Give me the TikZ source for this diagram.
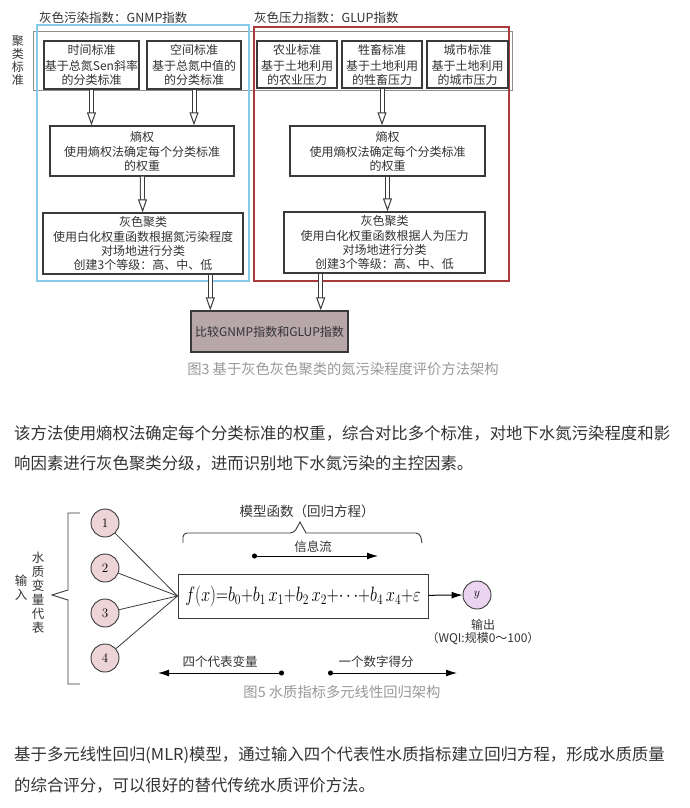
\documentclass[tikz,border=0pt]{standalone}
\usepackage{fontspec}
\usepackage{graphicx}
\usepackage{tikz}
\usetikzlibrary{arrows.meta, positioning, calc}
\newfontfamily\cjk{Noto Sans CJK SC}
\definecolor{boxline}{HTML}{3A3A3A}
\definecolor{txt}{HTML}{333333}
\definecolor{skyframe}{HTML}{86CBEA}
\definecolor{redframe}{HTML}{A93A3C}
\definecolor{grayframe}{HTML}{8E8E8E}
\definecolor{cmpfill}{HTML}{B7A6AA}
\definecolor{infill}{HTML}{EDD4D7}
\definecolor{outfill}{HTML}{EBD4EF}
\definecolor{capgray}{HTML}{999999}

\begin{document}
\begin{tikzpicture}[x=1pt, y=-1pt,
        block/.style={rectangle, draw=boxline, line width=1.4pt, align=center, text=txt, inner sep=0pt, font=\cjk\fontsize{12}{14}\selectfont},
        hollow/.style={draw=boxline, line width=1pt, double=white, double distance=3pt, -{Triangle[open, length=13pt, width=9pt]}},
        lbl/.style={text=txt, align=center, inner sep=0pt, font=\cjk\fontsize{12.5}{14}\selectfont},
        ball/.style={circle, draw=boxline, line width=0.9pt, fill=infill, minimum size=28pt, inner sep=0pt, font=\fontsize{13}{13}\selectfont},
        line/.style={draw=black, line width=1pt, -{Latex[length=11pt, width=7pt]}},
        flow/.style={draw=black, line width=1pt, {Circle[length=5pt]}-{Latex[length=11pt, width=7pt]}},
        para/.style={anchor=west, text=txt, inner sep=0pt, font=\cjk\fontsize{16.4}{18}\selectfont},
        caption/.style={text=capgray, inner sep=0pt, font=\cjk\fontsize{14.3}{16}\selectfont}]

    \fill [white] (0,0) rectangle (690,808);
    \useasboundingbox (0,0) rectangle (690,808);

    % figure 3
    \draw [grayframe, line width=1pt] (33,32) rectangle (512,90);
    \draw [skyframe, line width=1.4pt] (37,25) rectangle (249,281);
    \draw [redframe, line width=1.4pt] (254,27) rectangle (509,281);

    \node [lbl, anchor=west] (gnmp) at (39,18) {灰色污染指数：GNMP指数};
    \node [lbl, anchor=west] (glup) at (254,18) {灰色压力指数：GLUP指数};
    \node [lbl, font=\cjk\fontsize{12}{13}\selectfont] (cluster) at (18,61) {聚\\类\\标\\准};

    \node [block, minimum width=95pt, minimum height=48pt] (time) at (91.5,65) {时间标准\\[2pt]基于总氮Sen斜率\\的分类标准};
    \node [block, minimum width=94pt, minimum height=48pt] (space) at (194,65) {空间标准\\[2pt]基于总氮中值的\\的分类标准};
    \node [block, minimum width=80pt, minimum height=47pt] (farm) at (297,64.5) {农业标准\\[2pt]基于土地利用\\的农业压力};
    \node [block, minimum width=80pt, minimum height=47pt] (stock) at (382,64.5) {牲畜标准\\[2pt]基于土地利用\\的牲畜压力};
    \node [block, minimum width=81pt, minimum height=47pt] (city) at (467.5,64.5) {城市标准\\[2pt]基于土地利用\\的城市压力};

    \node [block, minimum width=184pt, minimum height=50pt] (entl) at (142,151) {熵权\\[1pt]使用熵权法确定每个分类标准\\的权重};
    \node [block, minimum width=195pt, minimum height=50pt] (entr) at (387.5,151) {熵权\\[1pt]使用熵权法确定每个分类标准\\的权重};
    \node [block, minimum width=200pt, minimum height=61pt] (greyl) at (143,243.5) {灰色聚类\\[1pt]使用白化权重函数根据氮污染程度\\对场地进行分类\\创建3个等级：高、中、低};
    \node [block, minimum width=201pt, minimum height=61pt] (greyr) at (384.5,242.5) {灰色聚类\\[1pt]使用白化权重函数根据人为压力\\对场地进行分类\\创建3个等级：高、中、低};
    \node [block, fill=cmpfill, minimum width=157pt, minimum height=41pt] (cmp) at (269.5,331.5) {比较GNMP指数和GLUP指数};

    \coordinate (inl) at ($(cmp.north west)+(20,0)$);
    \coordinate (inr) at ($(cmp.north east)+(-28,0)$);

    \path [hollow] (time.south) -- (time.south |- entl.north);
    \path [hollow] (space.south) -- (space.south |- entl.north);
    \path [hollow] (stock.south) -- (stock.south |- entr.north);
    \path [hollow] (entl) -- (greyl);
    \path [hollow] (entr.south) -- (entr.south |- greyr.north);
    \path [hollow] (greyl.south -| inl) -- (inl);
    \path [hollow] (greyr.south -| inr) -- (inr);

    \node [caption] (cap3) at (343,369) {图3 基于灰色灰色聚类的氮污染程度评价方法架构};

    \node [para] (p1a) at (14,433) {该方法使用熵权法确定每个分类标准的权重，综合对比多个标准，对地下水氮污染程度和影};
    \node [para] (p1b) at (14,463) {响因素进行灰色聚类分级，进而识别地下水氮污染的主控因素。};

    % figure 5
    \node [ball] (x1) at (105,523) {1};
    \node [ball] (x2) at (105,568) {2};
    \node [ball] (x3) at (105,613) {3};
    \node [ball] (x4) at (105,658) {4};
    \node [rectangle, draw=boxline, line width=1pt, minimum width=250pt, minimum height=44pt, inner sep=0pt, font=\fontsize{20.74}{21}\selectfont] (fx) at (303,596)
        {\scalebox{0.8}[1]{$f(x){=}b_0{+}b_1\,x_1{+}b_2\,x_2{+}{\cdots}{+}b_4\,x_4{+}\varepsilon$}};
    \node [ball, fill=outfill] (y) at (477,595) {$y$};
    \node [lbl, font=\cjk\fontsize{12}{13}\selectfont] (out) at (483,632) {输出\\（WQI:规模0～100）};

    \draw [boxline, line width=0.8pt] (x1) -- (fx.west);
    \draw [boxline, line width=0.8pt] (x2) -- (fx.west);
    \draw [boxline, line width=0.8pt] (x3) -- (fx.west);
    \draw [boxline, line width=0.8pt] (x4) -- (fx.west);
    \path [line] (fx) -- (y);

    \draw [boxline, line width=0.9pt] (183,543) [rounded corners=4pt] -- (183,533) -- (294,533) [sharp corners] -- (300,522) -- (306,533) [rounded corners=4pt] -- (420,533) -- (422,543);
    \node [lbl, font=\cjk\fontsize{13.5}{14}\selectfont] (model) at (307,511) {模型函数（回归方程）};

    \node [lbl] (info) at (313,547) {信息流};
    \coordinate (f0) at (252,556);
    \coordinate (f1) at (378,556);
    \path [flow] (f0) -- (f1);

    \node [lbl] (four) at (220,662) {四个代表变量};
    \coordinate (v0) at (284,673);
    \coordinate (v1) at (158,673);
    \path [flow] (v0) -- (v1);

    \node [lbl] (score) at (376,662) {一个数字得分};
    \coordinate (s0) at (328,673);
    \coordinate (s1) at (457,673);
    \path [flow] (s0) -- (s1);

    \draw [boxline, line width=0.9pt] (80,513) -- (68,513) -- (68,590) -- (52,595) -- (68,600) -- (68,684) -- (80,684);
    \node [lbl, font=\cjk\fontsize{12.5}{14}\selectfont] (water) at (38,593) {水\\质\\变\\量\\代\\表};
    \node [lbl, font=\cjk\fontsize{12.5}{14}\selectfont] (input) at (21,588) {输\\入};

    \node [caption] (cap5) at (342,692) {图5 水质指标多元线性回归架构};

    \node [para] (p2a) at (14,755) {基于多元线性回归(MLR)模型，通过输入四个代表性水质指标建立回归方程，形成水质质量};
    \node [para] (p2b) at (14,785) {的综合评分，可以很好的替代传统水质评价方法。};
\end{tikzpicture}
\end{document}
